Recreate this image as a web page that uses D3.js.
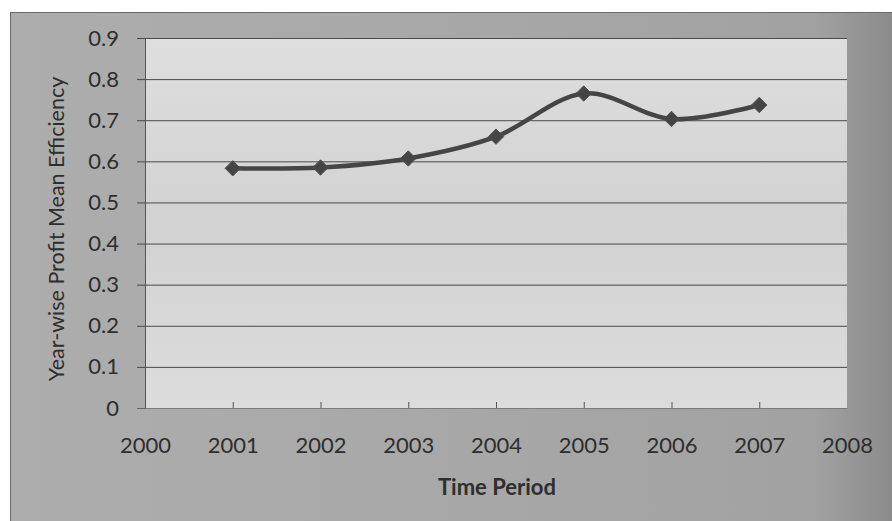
<!DOCTYPE html>
<html>
<head>
<meta charset="utf-8">
<script src="https://cdn.jsdelivr.net/npm/d3@7/dist/d3.min.js"></script>
<style>
  html, body { margin: 0; padding: 0; background: #ffffff; }
  svg { display: block; }
  text { font-family: Lato, "Open Sans", "Liberation Sans", sans-serif; fill: #2e2e2e; }
</style>
</head>
<body>
<script>
// Year-wise profit mean efficiency
const years = [2001, 2002, 2003, 2004, 2005, 2006, 2007];
const efficiency = [0.583, 0.585, 0.607, 0.660, 0.765, 0.703, 0.737];
const xTicks = [2000, 2001, 2002, 2003, 2004, 2005, 2006, 2007, 2008];
const yTicks = [0, 0.1, 0.2, 0.3, 0.4, 0.5, 0.6, 0.7, 0.8, 0.9];
const xTitle = "Time Period";
const yTitle = "Year-wise Profit Mean Efficiency";

const W = 892, H = 521;
const plot = { left: 145, top: 38, right: 847, bottom: 408 };

const svg = d3.select("body").append("svg").attr("width", W).attr("height", H);

// chart background with a soft gray gradient, darker towards the right
const defs = svg.append("defs");
const bg = defs.append("linearGradient").attr("id", "bg").attr("x1", 0).attr("y1", 0).attr("x2", 1).attr("y2", 0);
bg.append("stop").attr("offset", "0%").attr("stop-color", "#adadad");
bg.append("stop").attr("offset", "40%").attr("stop-color", "#a9a9a9");
bg.append("stop").attr("offset", "90%").attr("stop-color", "#a2a2a2");
bg.append("stop").attr("offset", "100%").attr("stop-color", "#888888");
const pf = defs.append("linearGradient").attr("id", "pf").attr("x1", 0).attr("y1", 0).attr("x2", 0).attr("y2", 1);
pf.append("stop").attr("offset", "0%").attr("stop-color", "#dedede");
pf.append("stop").attr("offset", "50%").attr("stop-color", "#d2d2d2");
pf.append("stop").attr("offset", "100%").attr("stop-color", "#dcdcdc");

svg.append("rect").attr("x", 10.5).attr("y", 12.5).attr("width", W).attr("height", H)
  .attr("fill", "url(#bg)").attr("stroke", "#6a6a6a").attr("stroke-width", 1);

const x = d3.scaleLinear().domain([2000, 2008]).range([plot.left, plot.right]);
const y = d3.scaleLinear().domain([0, 0.9]).range([plot.bottom, plot.top]);

svg.append("rect").attr("x", plot.left).attr("y", plot.top)
  .attr("width", plot.right - plot.left).attr("height", plot.bottom - plot.top)
  .attr("fill", "url(#pf)");

// y axis with gridlines running across the plot
const yAxis = svg.append("g").attr("transform", `translate(${plot.left},0)`)
  .call(d3.axisLeft(y).tickValues(yTicks).tickFormat(d3.format("~g"))
    .tickSizeInner(-(plot.right - plot.left)).tickSizeOuter(0).tickPadding(26));
yAxis.select(".domain").attr("stroke", "#555").attr("stroke-width", 1);
yAxis.selectAll(".tick line").attr("stroke", "#4a4a4a").attr("stroke-width", 1)
  .attr("x1", -8);
yAxis.selectAll(".tick").filter(d => d === 0).select("line").attr("stroke", "#666");
yAxis.selectAll(".tick text").attr("font-size", 22).attr("fill", "#333");

// x axis: value axis of years, small ticks pointing up into the plot
const xAxis = svg.append("g").attr("transform", `translate(0,${plot.bottom})`)
  .call(d3.axisBottom(x).tickValues(xTicks).tickFormat(d3.format("d"))
    .tickSizeInner(-6).tickSizeOuter(0).tickPadding(29));
xAxis.select(".domain").attr("stroke", "#7a7a7a");
xAxis.selectAll(".tick line").attr("stroke", "#555");
xAxis.selectAll(".tick text").attr("font-size", 22).attr("fill", "#333");
xAxis.selectAll(".tick").filter(d => d === 2000 || d === 2008).select("line").remove();

// smoothed series line with diamond markers
const data = years.map((yr, i) => ({ year: yr, value: efficiency[i] }));
const line = d3.line().x(d => x(d.year)).y(d => y(d.value)).curve(d3.curveCatmullRom.alpha(0));
svg.append("path").datum(data).attr("d", line)
  .attr("fill", "none").attr("stroke", "#454545").attr("stroke-width", 4.5).attr("stroke-linejoin", "round");
svg.selectAll(".marker").data(data).join("path").attr("class", "marker")
  .attr("transform", d => `translate(${x(d.year)},${y(d.value)})`)
  .attr("d", d3.symbol(d3.symbolDiamond2 || d3.symbolDiamond, 150))
  .attr("fill", "#454545").attr("stroke", "#505050").attr("stroke-width", 1);

// axis titles
svg.append("text").attr("x", 497).attr("y", 495).attr("text-anchor", "middle")
  .attr("font-size", 22).attr("font-weight", "bold").attr("fill", "#2a2a2a").text(xTitle);
svg.append("text").attr("transform", "translate(64,229) rotate(-90)").attr("text-anchor", "middle")
  .attr("font-size", 21.5).attr("fill", "#333").text(yTitle);
</script>
</body>
</html>
